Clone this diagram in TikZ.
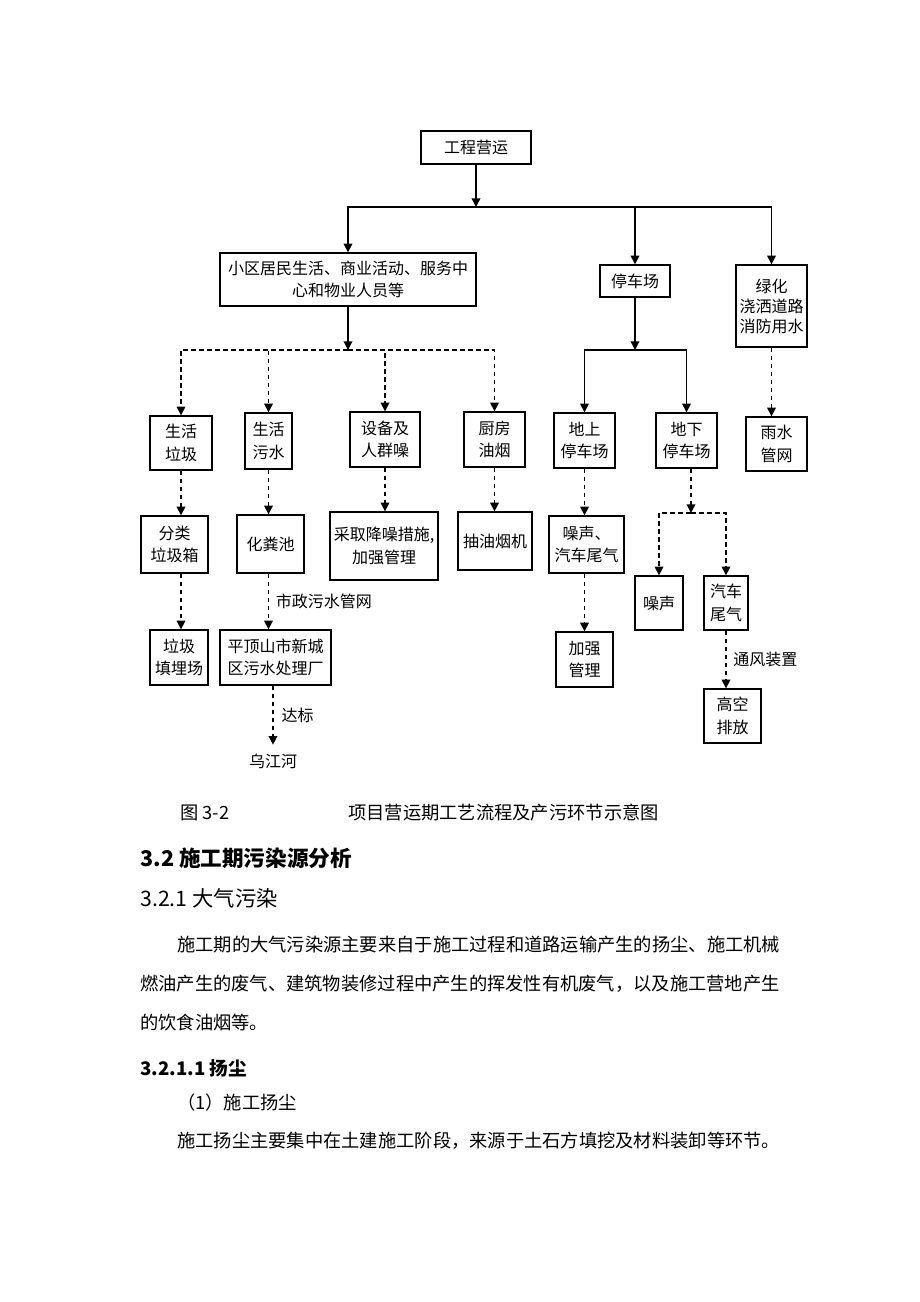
\documentclass[tikz,border=0pt]{standalone}
\usepackage{fontspec}
\setmainfont{Noto Sans CJK SC}
\usetikzlibrary{arrows.meta, positioning}
\tikzset{
    blk/.style={draw, line width=1pt, align=center, inner sep=2pt, font=\fontsize{12}{17}\selectfont},
    arr/.style={line width=1pt, -{Triangle[length=6.5pt,width=6.5pt]}},
    darr/.style={arr, dash pattern=on 3.5pt off 2.5pt},
    lbl/.style={inner sep=0pt, font=\fontsize{12}{17}\selectfont},
    txt/.style={anchor=west, inner sep=0pt, font=\fontsize{13.7}{16}\selectfont},
    hd/.style={txt, font=\fontsize{16.2}{18}\selectfont\bfseries}
}

\begin{document}
\begin{tikzpicture}[x=0.75pt, y=-0.75pt]
\useasboundingbox (0,0) rectangle (920,1302);

% Draw the top level
\node[blk, minimum width=82.5pt, minimum height=24.75pt] (top) at (476,147.5) {工程营运};
\coordinate (j1) at (476,207);

% Draw the three branches
\node[blk, minimum width=192pt, minimum height=39.75pt] (life) at (348,279.5) {小区居民生活、商业活动、服务中\\心和物业人员等};
\node[blk, minimum width=52.5pt, minimum height=24pt] (park) at (635,281) {停车场};
\node[blk, minimum width=53.25pt, minimum height=61.5pt, font=\fontsize{12}{15}\selectfont] (green) at (771.5,306) {绿化\\浇洒道路\\消防用水};

\draw[arr] (top.south) -- (j1);
\draw[arr] (j1) -| (life.north);
\draw[arr] (j1) -| (park.north);
\draw[arr] (j1) -| (green.north);

% Draw the residential sources
\coordinate (j3) at (348,350);
\node[blk, minimum width=46.5pt, minimum height=40.5pt] (bin) at (181,443) {生活\\垃圾};
\node[blk, minimum width=35.25pt, minimum height=42pt] (sew) at (268.5,441) {生活\\污水};
\node[blk, minimum width=52.5pt, minimum height=41.25pt] (noise) at (385,439.5) {设备及\\人群噪};
\node[blk, minimum width=45.75pt, minimum height=41.25pt] (kit) at (494.5,439.5) {厨房\\油烟};

\draw[arr] (life.south) -- (j3);
\draw[darr] (j3) -| (bin.north);
\draw[darr] (j3) -| (sew.north);
\draw[darr] (j3) -| (noise.north);
\draw[darr] (j3) -| (kit.north);

% Draw the treatment steps
\node[blk, minimum width=50.25pt, minimum height=42.75pt] (sort) at (174.5,544.5) {分类\\垃圾箱};
\node[blk, minimum width=50.25pt, minimum height=43.5pt] (tank) at (270.5,544) {化粪池};
\node[blk, minimum width=81pt, minimum height=51pt] (meas) at (384,546) {采取降噪措施,\\加强管理};
\node[blk, minimum width=55.5pt, minimum height=43.5pt] (hood) at (495,541) {抽油烟机};

\draw[darr] (bin.south) -- (bin.south |- sort.north);
\draw[darr] (sew.south) -- (sew.south |- tank.north);
\draw[darr] (noise.south) -- (noise.south |- meas.north);
\draw[darr] (kit.south) -- (kit.south |- hood.north);

\node[blk, minimum width=43.5pt, minimum height=41.25pt] (land) at (179,657.5) {垃圾\\填埋场};
\node[blk, minimum width=83.25pt, minimum height=41.25pt] (plant) at (275.5,657.5) {平顶山市新城\\区污水处理厂};
\node[lbl, inner ysep=6.5pt] (river) at (273,761) {乌江河};

\draw[darr] (sort.south -| bin.south) -- (bin.south |- land.north);
\draw[darr] (tank.south -| sew.south) -- (sew.south |- plant.north) node[lbl, midway, right=5pt] {市政污水管网};
\draw[darr] (plant.south -| river.north) -- (river.north) node[lbl, midway, right=6pt] {达标};

% Draw the parking branch
\coordinate (j2) at (635,350);
\node[blk, minimum width=45.75pt, minimum height=41.25pt] (upark) at (584.5,440.5) {地上\\停车场};
\node[blk, minimum width=45.75pt, minimum height=41.25pt] (dpark) at (686.5,440.5) {地下\\停车场};

\draw[arr] (park.south) -- (j2);
\draw[arr] (j2) -| (upark.north);
\draw[arr] (j2) -| (dpark.north);

\node[blk, minimum width=56.25pt, minimum height=42.75pt] (unoise) at (586.5,544.5) {噪声、\\汽车尾气};
\node[blk, minimum width=42.75pt, minimum height=41.25pt] (ustr) at (584.5,659.5) {加强\\管理};

\draw[darr] (upark.south) -- (upark.south |- unoise.north);
\draw[darr] (unoise.south -| upark.south) -- (upark.south |- ustr.north);

\coordinate (j4) at (691,513);
\node[blk, minimum width=36pt, minimum height=40.5pt] (dnoise) at (659,603) {噪声};
\node[blk, minimum width=33pt, minimum height=40.5pt] (dexh) at (726,603) {汽车\\尾气};
\node[blk, minimum width=42.75pt, minimum height=40.5pt] (high) at (732.5,716) {高空\\排放};

\draw[darr] (dpark.south -| j4) -- (j4);
\draw[darr] (j4) -| (dnoise.north);
\draw[darr] (j4) -| (dexh.north);
\draw[darr] (dexh.south) -- (dexh.south |- high.north) node[lbl, midway, right=5pt] {通风装置};

% Draw the water branch
\node[blk, minimum width=45.75pt, minimum height=40.5pt] (rain) at (776.5,444) {雨水\\管网};
\draw[darr] (green.south) -- (green.south |- rain.north);

% Caption and text below
\node[txt] (capno) at (180,813) {图 3-2};
\node[txt] (cap) at (348,813) {项目营运期工艺流程及产污环节示意图};
\node[hd] (h1) at (140,858) {3.2 施工期污染源分析};
\node[txt, font=\fontsize{16}{18}\selectfont] (h2) at (140,898) {3.2.1 大气污染};
\node[hd, font=\fontsize{14}{16}\selectfont\bfseries] (h3) at (140,1068) {3.2.1.1 扬尘};
\node[txt] (p1) at (177,945) {施工期的大气污染源主要来自于施工过程和道路运输产生的扬尘、施工机械};
\node[txt] (p2) at (140,984) {燃油产生的废气、建筑物装修过程中产生的挥发性有机废气，以及施工营地产生};
\node[txt] (p3) at (140,1023) {的饮食油烟等。};
\node[txt] (p4) at (177,1103) {（1）施工扬尘};
\node[txt] (p5) at (177,1141) {施工扬尘主要集中在土建施工阶段，来源于土石方填挖及材料装卸等环节。};
\end{tikzpicture}
\end{document}
